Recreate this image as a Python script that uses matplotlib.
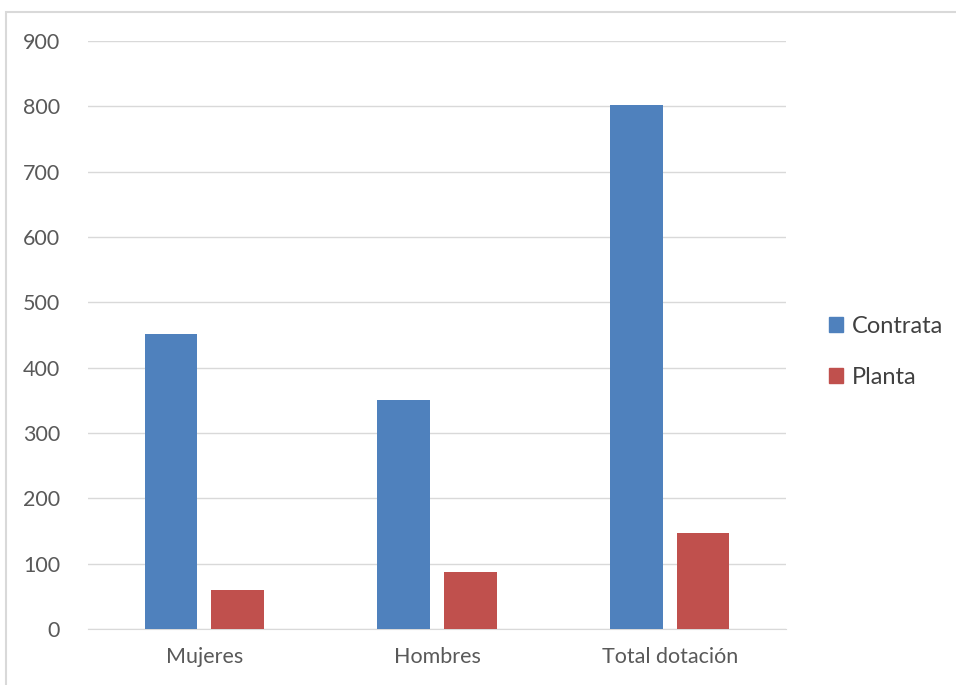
import matplotlib.pyplot as plt
import numpy as np
from matplotlib.patches import Rectangle, Patch

categories = ["Mujeres", "Hombres", "Total dotación"]
contrata = [452, 350, 802]
planta = [60, 87, 147]
yticks = [0, 100, 200, 300, 400, 500, 600, 700, 800, 900]

blue = "#4f81bd"
red = "#c0504d"
grid = "#d9d9d9"
text = "#595959"

plt.rcParams["font.family"] = ["Lato", "DejaVu Sans"]

fig = plt.figure(figsize=(9.56, 6.85), dpi=100)
ax = fig.add_axes([88 / 956, 56 / 685, 698 / 956, 588 / 685])

x = np.arange(len(categories))
w = 0.227
gap = 0.06
ax.bar(x - (w + gap) / 2, contrata, w, color=blue, label="Contrata", zorder=3)
ax.bar(x + (w + gap) / 2, planta, w, color=red, label="Planta", zorder=3)

ax.set_xlim(-0.5, 2.5)
ax.set_ylim(0, 900)
ax.set_yticks(yticks)
ax.set_xticks(x)
ax.set_xticklabels(categories)
ax.yaxis.grid(True, color=grid, linewidth=1, zorder=0)
for s in ["top", "right", "left"]:
    ax.spines[s].set_visible(False)
ax.spines["bottom"].set_color(grid)
ax.tick_params(axis="both", length=0, labelsize=15.5, colors=text)
ax.tick_params(axis="y", pad=20)
ax.tick_params(axis="x", pad=13)

handles = [Patch(color=blue), Patch(color=red)]
fig.legend(handles, ["Contrata", "Planta"], loc="center left",
           bbox_to_anchor=(829 / 956, 1 - 352 / 685), frameon=False,
           borderpad=0, borderaxespad=0,
           fontsize=17, handlelength=0.6, handleheight=0.6,
           handletextpad=0.35, labelspacing=1.25, labelcolor="#404040")

# chart border (cut off at right and bottom)
fig.patches.append(Rectangle((6 / 956, -0.1), 1.5, 1 - 12 / 685 + 0.1,
                             transform=fig.transFigure, fill=False,
                             edgecolor=grid, linewidth=1.5))

fig.savefig("out.png", dpi=100)
